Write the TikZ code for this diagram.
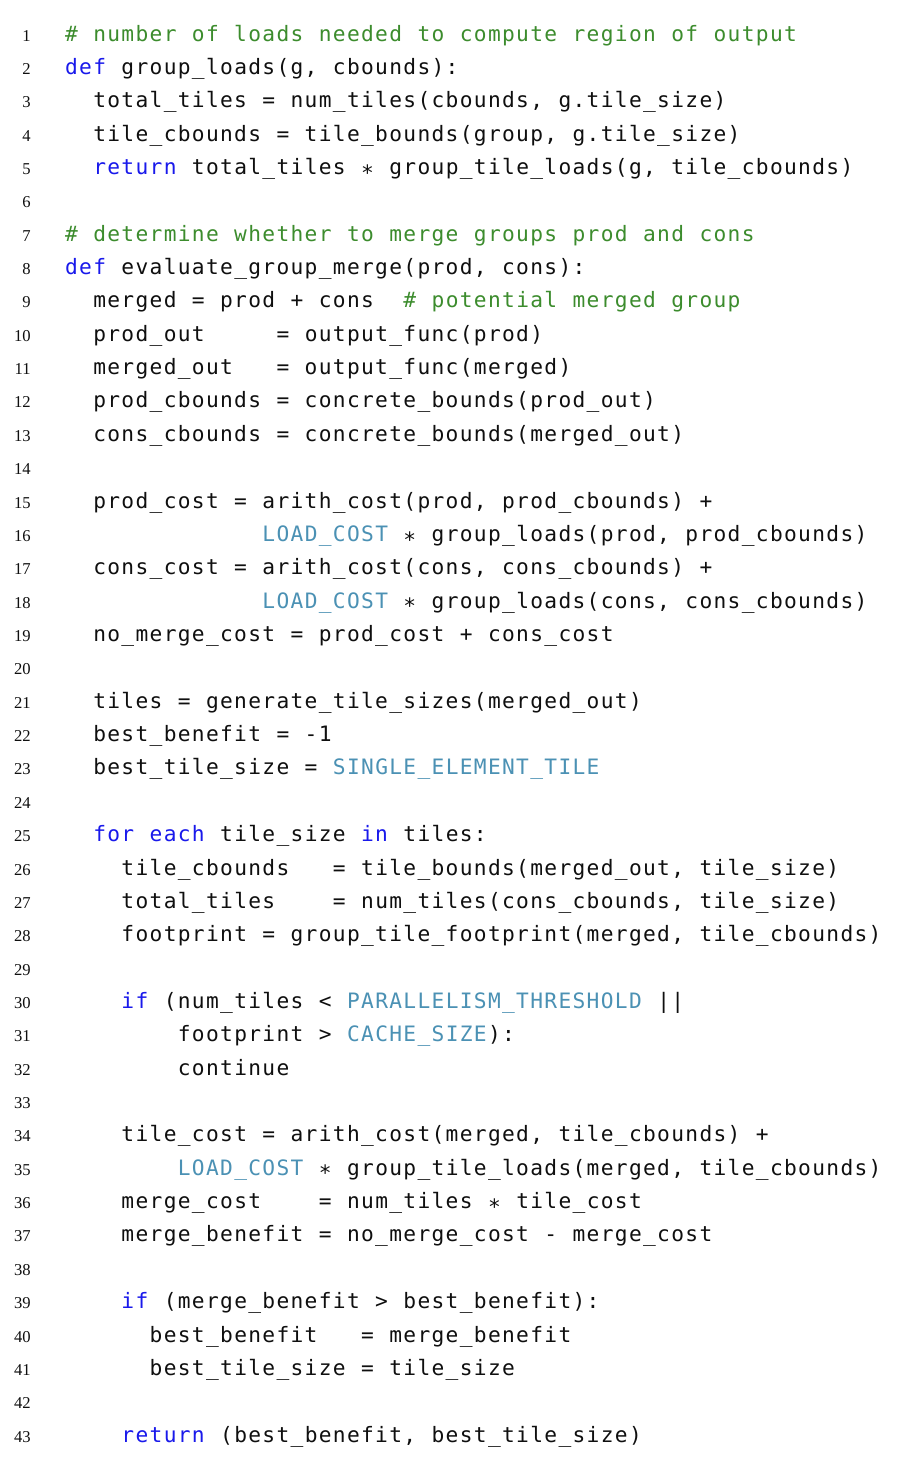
\documentclass[tikz,border=0pt]{standalone}
\usepackage{fontspec}
\usepackage{xcolor}
\newfontfamily\mycodefam{DejaVu Sans Mono}
\newfontfamily\mynumfam{Liberation Serif}
\newcommand\mycodefont{\mycodefam\fontsize{10.6pt}{12pt}\selectfont}
\newcommand\mynumfont{\mynumfam\fontsize{8.3pt}{10pt}\selectfont}
\definecolor{kwblue}{RGB}{25,25,235}
\definecolor{cmgreen}{RGB}{60,140,45}
\definecolor{cnteal}{RGB}{75,145,180}
\definecolor{txblack}{RGB}{15,15,15}
\newlength\codecw
\setlength\codecw{7.05pt}
\ExplSyntaxOn
\cs_new_protected:Npn \mycodechars #1
  {
    \str_map_inline:nn {#1}
      {
        \hbox_to_wd:nn { \codecw }
          {
            \hss
            \str_case:nnF {##1}
              {
                { @ } { }
                { ~ } { }
                { ! } { \c_hash_str }
                { * } { \raisebox{-0.27em}{*} }
              }
              { ##1 }
            \hss
          }
      }
  }
\ExplSyntaxOff
\newcommand\ckw[1]{{\color{kwblue}\mycodechars{#1}}}
\newcommand\ctx[1]{{\color{txblack}\mycodechars{#1}}}
\newcommand\ccm[1]{{\color{cmgreen}\mycodechars{#1}}}
\newcommand\ccn[1]{{\color{cnteal}\mycodechars{#1}}}
\begin{document}
\begin{tikzpicture}[
  code/.style={font=\mycodefont, inner sep=0pt, anchor=base west},
  codeat/.style 2 args={at={({32pt+#1*7.05pt},{-20.5pt-(#2-1)*16.68pt})}},
  lnum/.style={font=\mynumfont, inner sep=0pt, anchor=base east, text=txblack},
  lnat/.style={at={(15.5pt,{-20.5pt-(#1-1)*16.68pt})}}
]
\fill[white] (0,0) rectangle (452pt,-729pt);
\useasboundingbox (0,0) rectangle (452pt,-729pt);
\foreach \i in {1,...,43} { \node[lnum, lnat=\i] (n\i) {\i}; }
\node[code, codeat={0}{1}] (c1) {\ccm{! number of loads needed to compute region of output}};
\node[code, codeat={0}{2}] (c2) {\ckw{def}\ctx{ group_loads(g, cbounds):}};
\node[code, codeat={2}{3}] (c3) {\ctx{total_tiles = num_tiles(cbounds, g.tile_size)}};
\node[code, codeat={2}{4}] (c4) {\ctx{tile_cbounds = tile_bounds(group, g.tile_size)}};
\node[code, codeat={2}{5}] (c5) {\ckw{return}\ctx{ total_tiles * group_tile_loads(g, tile_cbounds)}};
\node[code, codeat={0}{7}] (c7) {\ccm{! determine whether to merge groups prod and cons}};
\node[code, codeat={0}{8}] (c8) {\ckw{def}\ctx{ evaluate_group_merge(prod, cons):}};
\node[code, codeat={2}{9}] (c9) {\ctx{merged = prod + cons@@}\ccm{! potential merged group}};
\node[code, codeat={2}{10}] (c10) {\ctx{prod_out@@@@@= output_func(prod)}};
\node[code, codeat={2}{11}] (c11) {\ctx{merged_out@@@= output_func(merged)}};
\node[code, codeat={2}{12}] (c12) {\ctx{prod_cbounds = concrete_bounds(prod_out)}};
\node[code, codeat={2}{13}] (c13) {\ctx{cons_cbounds = concrete_bounds(merged_out)}};
\node[code, codeat={2}{15}] (c15) {\ctx{prod_cost = arith_cost(prod, prod_cbounds) +}};
\node[code, codeat={14}{16}] (c16) {\ccn{LOAD_COST}\ctx{ * group_loads(prod, prod_cbounds)}};
\node[code, codeat={2}{17}] (c17) {\ctx{cons_cost = arith_cost(cons, cons_cbounds) +}};
\node[code, codeat={14}{18}] (c18) {\ccn{LOAD_COST}\ctx{ * group_loads(cons, cons_cbounds)}};
\node[code, codeat={2}{19}] (c19) {\ctx{no_merge_cost = prod_cost + cons_cost}};
\node[code, codeat={2}{21}] (c21) {\ctx{tiles = generate_tile_sizes(merged_out)}};
\node[code, codeat={2}{22}] (c22) {\ctx{best_benefit = -1}};
\node[code, codeat={2}{23}] (c23) {\ctx{best_tile_size = }\ccn{SINGLE_ELEMENT_TILE}};
\node[code, codeat={2}{25}] (c25) {\ckw{for each}\ctx{ tile_size }\ckw{in}\ctx{ tiles:}};
\node[code, codeat={4}{26}] (c26) {\ctx{tile_cbounds@@@= tile_bounds(merged_out, tile_size)}};
\node[code, codeat={4}{27}] (c27) {\ctx{total_tiles@@@@= num_tiles(cons_cbounds, tile_size)}};
\node[code, codeat={4}{28}] (c28) {\ctx{footprint = group_tile_footprint(merged, tile_cbounds)}};
\node[code, codeat={4}{30}] (c30) {\ckw{if}\ctx{ (num_tiles < }\ccn{PARALLELISM_THRESHOLD}\ctx{ ||}};
\node[code, codeat={8}{31}] (c31) {\ctx{footprint > }\ccn{CACHE_SIZE}\ctx{):}};
\node[code, codeat={8}{32}] (c32) {\ctx{continue}};
\node[code, codeat={4}{34}] (c34) {\ctx{tile_cost = arith_cost(merged, tile_cbounds) +}};
\node[code, codeat={8}{35}] (c35) {\ccn{LOAD_COST}\ctx{ * group_tile_loads(merged, tile_cbounds)}};
\node[code, codeat={4}{36}] (c36) {\ctx{merge_cost@@@@= num_tiles * tile_cost}};
\node[code, codeat={4}{37}] (c37) {\ctx{merge_benefit = no_merge_cost - merge_cost}};
\node[code, codeat={4}{39}] (c39) {\ckw{if}\ctx{ (merge_benefit > best_benefit):}};
\node[code, codeat={6}{40}] (c40) {\ctx{best_benefit@@@= merge_benefit}};
\node[code, codeat={6}{41}] (c41) {\ctx{best_tile_size = tile_size}};
\node[code, codeat={4}{43}] (c43) {\ckw{return}\ctx{ (best_benefit, best_tile_size)}};
\end{tikzpicture}
\end{document}
